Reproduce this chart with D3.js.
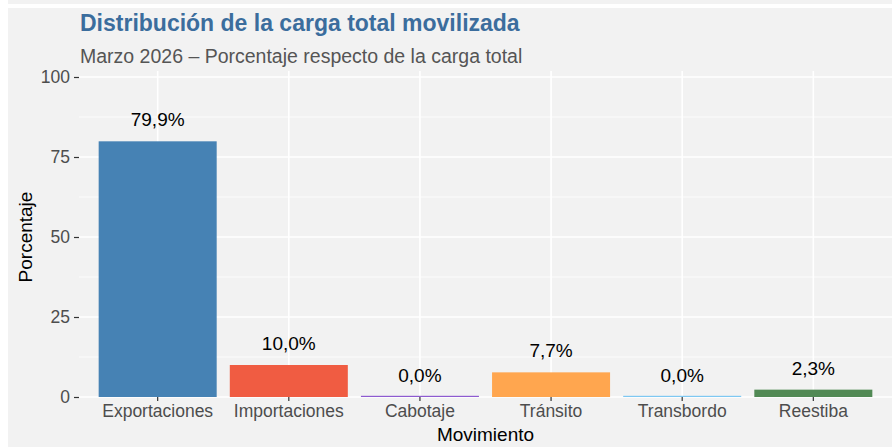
<!DOCTYPE html>
<html>
<head>
<meta charset="utf-8">
<script src="https://cdn.jsdelivr.net/npm/d3@7"></script>
<style>
  body { margin: 0; background: #fff; }
  svg { display: block; }
  text { font-family: "Liberation Sans", Arial, sans-serif; }
</style>
</head>
<body>
<svg id="chart"></svg>
<script>
const categories = ['Exportaciones', 'Importaciones', 'Cabotaje', 'Tránsito', 'Transbordo', 'Reestiba'];
const values = [79.9, 10.0, 0.0, 7.7, 0.0, 2.3];
const barColors = ['#4682B4', '#F05C42', '#8E5BD0', '#FFA64F', '#7EC8F2', '#528A55'];
const yTicks = [0, 25, 50, 75, 100];
const yMinor = [12.5, 37.5, 62.5, 87.5];

const w = 892;
const h = 447;

const svg = d3.select('#chart')
  .attr('width', w)
  .attr('height', h);

// grey strip at the top and main background
svg.append('rect').attr('x', 8).attr('y', 0).attr('width', w - 8).attr('height', 4).attr('fill', '#F2F2F2');
svg.append('rect').attr('x', 8).attr('y', 8).attr('width', w - 8).attr('height', h - 8).attr('fill', '#F2F2F2');

const panelLeft = 79, panelRight = 892, panelTop = 71, panelBottom = 397;

const y = d3.scaleLinear().domain([0, 100]).range([panelBottom, 77]);

// discrete axis: ggplot style expansion of 0.6 on each side
const step = (panelRight - panelLeft) / (categories.length + 0.2);
const x = d3.scaleBand()
  .domain(categories)
  .range([panelLeft + 0.1 * step, panelRight - 0.1 * step])
  .paddingInner(0.1)
  .paddingOuter(0.05);

const grid = svg.append('g');
grid.selectAll('line.minor')
  .data(yMinor)
  .enter()
  .append('line')
  .attr('x1', panelLeft).attr('x2', panelRight)
  .attr('y1', d => y(d)).attr('y2', d => y(d))
  .attr('stroke', '#fff').attr('stroke-width', 0.8);
grid.selectAll('line.major')
  .data(yTicks)
  .enter()
  .append('line')
  .attr('x1', panelLeft).attr('x2', panelRight)
  .attr('y1', d => y(d)).attr('y2', d => y(d))
  .attr('stroke', '#fff').attr('stroke-width', 1.6);
grid.selectAll('line.vert')
  .data(categories)
  .enter()
  .append('line')
  .attr('x1', d => x(d) + x.bandwidth() / 2).attr('x2', d => x(d) + x.bandwidth() / 2)
  .attr('y1', panelTop).attr('y2', panelBottom)
  .attr('stroke', '#fff').attr('stroke-width', 1.6);

// bars (zero values drawn as a thin line)
svg.selectAll('rect.bar')
  .data(categories)
  .enter()
  .append('rect')
  .attr('class', 'bar')
  .attr('x', d => x(d))
  .attr('width', x.bandwidth())
  .attr('y', (d, i) => values[i] > 0 ? y(values[i]) : panelBottom - 1.2)
  .attr('height', (d, i) => values[i] > 0 ? panelBottom - y(values[i]) : 1.2)
  .attr('fill', (d, i) => barColors[i]);

const fmt = v => v.toFixed(1).replace('.', ',') + '%';
svg.selectAll('text.val')
  .data(categories)
  .enter()
  .append('text')
  .attr('x', d => x(d) + x.bandwidth() / 2)
  .attr('y', (d, i) => y(values[i]) - 15)
  .attr('text-anchor', 'middle')
  .attr('font-size', 19)
  .attr('fill', '#000')
  .text((d, i) => fmt(values[i]));

// axes
const yAxis = svg.append('g')
  .attr('transform', `translate(${panelLeft},0)`)
  .call(d3.axisLeft(y).tickValues(yTicks).tickSize(5).tickPadding(4));
yAxis.select('.domain').remove();
yAxis.selectAll('line').attr('stroke', '#333').attr('stroke-width', 1.2);
yAxis.selectAll('text').attr('font-size', 17.5).attr('fill', '#4D4D4D')
  .attr('font-family', '"Liberation Sans", Arial, sans-serif');

const xAxis = svg.append('g')
  .attr('transform', `translate(0,${panelBottom})`)
  .call(d3.axisBottom(x).tickSize(4).tickPadding(4));
xAxis.select('.domain').remove();
xAxis.selectAll('line').attr('stroke', '#333').attr('stroke-width', 1.2);
xAxis.selectAll('text').attr('font-size', 17.5).attr('fill', '#4D4D4D')
  .attr('font-family', '"Liberation Sans", Arial, sans-serif');

// titles
svg.append('text')
  .attr('x', 80).attr('y', 31)
  .attr('font-size', 23).attr('font-weight', 'bold')
  .attr('fill', '#3B6D9D')
  .text('Distribución de la carga total movilizada');
svg.append('text')
  .attr('x', 80).attr('y', 63)
  .attr('font-size', 19.5).attr('fill', '#555')
  .text('Marzo 2026 – Porcentaje respecto de la carga total');

svg.append('text')
  .attr('x', (panelLeft + panelRight) / 2).attr('y', 441)
  .attr('text-anchor', 'middle')
  .attr('font-size', 19).attr('fill', '#000')
  .text('Movimiento');
svg.append('text')
  .attr('transform', `translate(32,${(77 + panelBottom) / 2}) rotate(-90)`)
  .attr('text-anchor', 'middle')
  .attr('font-size', 19).attr('fill', '#000')
  .text('Porcentaje');
</script>
</body>
</html>
